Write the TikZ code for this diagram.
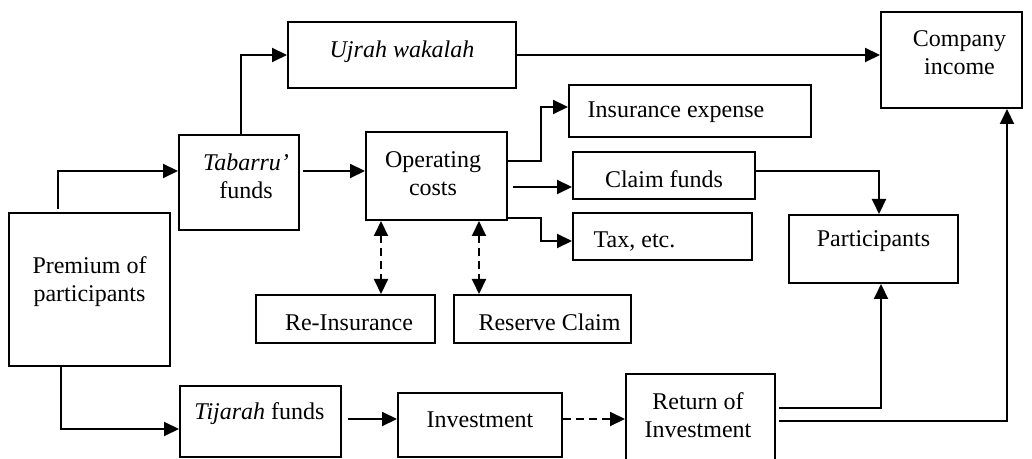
\documentclass[tikz,border=0pt]{standalone}
\usepackage{fontspec}
\setmainfont{Liberation Serif}
\usetikzlibrary{arrows.meta,calc}
\begin{document}
\begin{tikzpicture}[x=0.5pt,y=-0.5pt,
  box/.style={draw,line width=1pt,inner sep=0pt},
  txt/.style={align=center,font=\fontsize{12}{14}\selectfont,inner sep=0pt},
  tip/.tip={Triangle[length=7.5pt,width=7pt]},
  arr/.style={line width=1pt,-tip},
  darr/.style={line width=1pt,dash pattern=on 4pt off 2.5pt,tip-tip},
  dar/.style={line width=1pt,dash pattern=on 4pt off 2.5pt,-tip}]
\useasboundingbox (0,0) rectangle (1032,459);
\clip (0,0) rectangle (1032,459);
% boxes
\node[box,minimum width=114pt,minimum height=33pt,label={[txt,shift={(0,-3)}]center:\textit{Ujrah wakalah}}] (ujrah) at (402,55) {};
\node[box,minimum width=70.5pt,minimum height=48pt,label={[txt,shift={(8,-7)}]center:Company\\income}] (company) at (951.5,60) {};
\node[box,minimum width=60pt,minimum height=47.5pt,label={[txt,shift={(7,-6.5)}]center:\textit{Tabarru’}\\funds}] (tabarru) at (239,182.5) {};
\node[box,minimum width=70.5pt,minimum height=44pt,label={[txt,shift={(-3.5,-2)}]center:Operating\\costs}] (opcost) at (436.5,176) {};
\node[box,minimum width=121pt,minimum height=26pt,label={[txt,shift={(-14,1.5)}]center:Insurance expense}] (insexp) at (690,111) {};
\node[box,minimum width=91pt,minimum height=23.5pt,label={[txt,shift={(0,4)}]center:Claim funds}] (claim) at (664,175.5) {};
\node[box,minimum width=89.5pt,minimum height=23.5pt,label={[txt,shift={(-28,4.5)}]center:Tax, etc.}] (tax) at (662.5,236.5) {};
\node[box,minimum width=84.5pt,minimum height=34pt,label={[txt,shift={(0,-8)}]center:Participants}] (partic) at (873.5,249) {};
\node[box,minimum width=80.5pt,minimum height=76.5pt,label={[txt,shift={(0,-7.5)}]center:Premium of\\participants}] (premium) at (89.5,289.5) {};
\node[box,minimum width=89.5pt,minimum height=24pt,label={[txt,shift={(3.5,3.5)}]center:Re-Insurance}] (reins) at (345.5,319) {};
\node[box,minimum width=88.5pt,minimum height=24pt,label={[txt,shift={(7,3.5)}]center:Reserve Claim}] (reserve) at (542.5,319) {};
\node[box,minimum width=80.5pt,minimum height=35.5pt,label={[txt,shift={(-1,-8)}]center:\textit{Tijarah} funds}] (tijarah) at (260.5,421.5) {};
\node[box,minimum width=82pt,minimum height=32pt,label={[txt,shift={(0,-5.5)}]center:Investment}] (invest) at (480,425) {};
\node[box,minimum width=74.5pt,minimum height=44pt,label={[txt,shift={(-2.5,-3)}]center:Return of\\Investment}] (return) at (700.5,418) {};
% connectors
\draw[arr] ($(premium.north west)+(50,-3)$) |- ($(tabarru.north west)+(0,37)$);
\draw[arr] ($(premium.south west)+(53,0)$) |- ($(tijarah.north west)+(0,44)$);
\draw[arr] ($(tabarru.north west)+(63,0)$) |- (ujrah.west);
\draw[arr] ($(tabarru.north east)+(3,37)$) -- ($(opcost.north west)+(0,40)$);
\draw[arr] (ujrah.east) -- (ujrah.east -| company.west);
\draw[arr] ($(opcost.north east)+(0,30)$) -- ++(33,0) |- ($(insexp.north west)+(0,23)$);
\draw[arr] ($(opcost.north east)+(5,56)$) -- ($(claim.north west)+(0,36)$);
\draw[arr] ($(opcost.south east)+(0,-3)$) -- ++(33,0) |- ($(tax.north west)+(0,29)$);
\draw[arr] ($(claim.north east)+(-2,20)$) -| ($(partic.north west)+(91,0)$);
\draw[arr] ($(return.north east)+(3,35)$) -| ($(partic.south west)+(93,0)$);
\draw[arr] ($(return.north east)+(3,48)$) -| ($(company.south east)+(-16,0)$);
\draw[arr] ($(tijarah.north east)+(6,34)$) -- ($(invest.north west)+(0,27)$);
\draw[dar] ($(invest.north east)+(0,27)$) -- ($(return.north west)+(0,46)$);
\draw[darr] ($(opcost.south west)+(16,0)$) -- ($(reins.north west)+(126,0)$);
\draw[darr] ($(opcost.south west)+(114,0)$) -- ($(reserve.north west)+(26,0)$);
\end{tikzpicture}
\end{document}
